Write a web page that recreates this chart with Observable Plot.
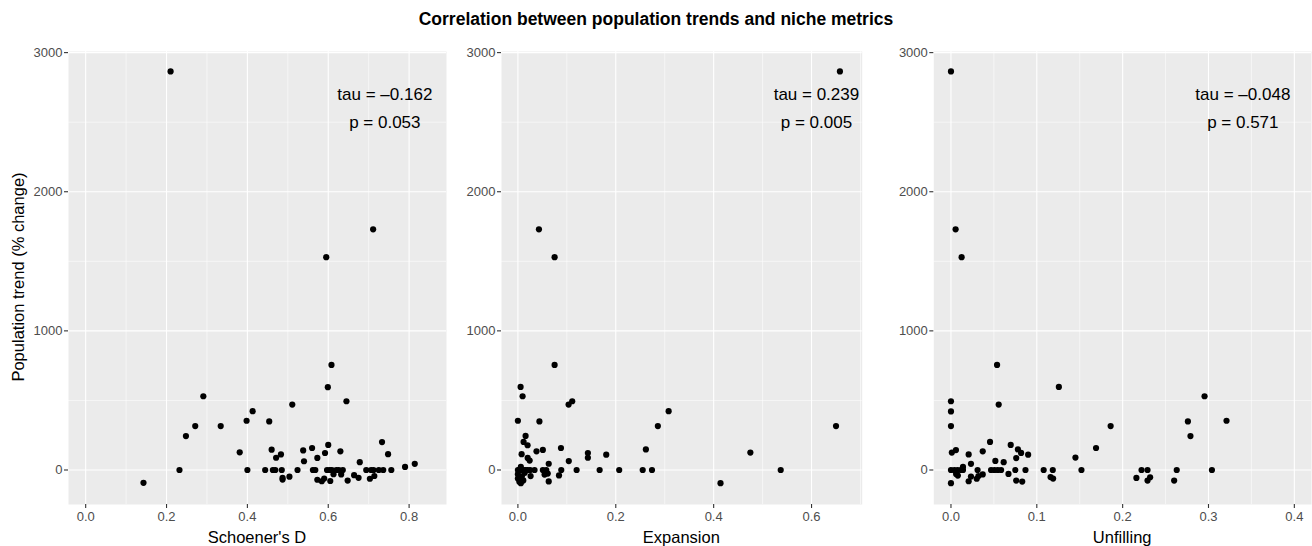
<!DOCTYPE html>
<html>
<head>
<meta charset="utf-8">
<script src="https://cdn.jsdelivr.net/npm/d3@7"></script>
<script src="https://cdn.jsdelivr.net/npm/@observablehq/plot@0.6"></script>
<style>
  html, body { margin: 0; padding: 0; background: #fff; }
  #chart { position: relative; width: 1312px; height: 546px; font-family: "Liberation Sans", Arial, sans-serif; overflow: hidden; }
  #chart svg { position: absolute; top: 0; }
  .lbl { position: absolute; white-space: nowrap; color: #000; }
</style>
</head>
<body>
<div id="chart"></div>
<script>
// ---------- data ----------
const chartTitle = "Correlation between population trends and niche metrics";
const yTitle = "Population trend (% change)";
const panelTitles = ["Schoener's D", "Expansion", "Unfilling"];

const yTicks = [0, 1000, 2000, 3000];
const yMinor = [500, 1500, 2500];

// Panel 1: Schoener's D
const schoenerX = [0.210, 0.595, 0.711,
  0.608, 0.599, 0.291, 0.645, 0.511, 0.413, 0.398, 0.454, 0.271, 0.334, 0.248, 0.733, 0.600, 0.560, 0.460, 0.538, 0.630, 0.381, 0.592, 0.748, 0.483, 0.471, 0.573, 0.540, 0.678, 0.814, 0.790,
  0.232, 0.400, 0.444, 0.463, 0.469, 0.485, 0.524, 0.562, 0.568, 0.597, 0.604, 0.609, 0.620, 0.626, 0.636, 0.694, 0.706, 0.712, 0.725, 0.736, 0.756,
  0.143, 0.487, 0.487, 0.504, 0.573, 0.584, 0.590, 0.605, 0.613, 0.632, 0.648, 0.664, 0.675, 0.703, 0.714];
const schoenerTrend = [2865, 1530, 1730,
  755, 595, 530, 494, 470, 423, 354, 349, 316, 316, 244, 201, 180, 158, 146, 141, 134, 127, 122, 114, 112, 88, 87, 63, 56, 44, 22,
  0, 0, 0, 0, 0, 0, 0, 0, 0, 0, 0, 0, 0, 0, 0, 0, 0, 0, 0, 0, 0,
  -92, -69, -57, -48, -70, -81, -62, -79, -30, -32, -76, -37, -56, -63, -43];

// Panel 2: Expansion
const expansionX = [0.658, 0.043, 0.075,
  0.075, 0.0055, 0.0096, 0.111, 0.1036, 0.308, 0.0, 0.044, 0.286, 0.650, 0.0157, 0.0116, 0.0198, 0.088, 0.2615, 0.051, 0.038, 0.475, 0.143, 0.0076, 0.1805, 0.143, 0.020, 0.024, 0.104, 0.063, 0.006,
  0.0, 0.003, 0.006, 0.009, 0.012, 0.016, 0.020, 0.025, 0.034, 0.051, 0.058, 0.0886, 0.120, 0.167, 0.207, 0.255, 0.274, 0.537,
  0.414, 0.084, 0.063, 0.026, 0.061, 0.0545, 0.0, 0.0, 0.003, 0.008, 0.011, 0.014, 0.006];
const expansionTrend = [2865, 1730, 1530,
  755, 597, 530, 494, 470, 423, 354, 349, 316, 316, 245, 202, 178, 158, 148, 144, 134, 125, 122, 114, 110, 88, 87, 68, 64, 45, 22,
  0, 0, 0, 0, 0, 0, 0, 0, 0, 0, 0, 0, 0, 0, 0, 0, 0, 0,
  -95, -39, -82, -44, -26, -33, -30, -62, -85, -45, -75, -20, -95];

// Panel 3: Unfilling
const unfillingX = [0, 0.0054, 0.0124,
  0.0537, 0.1257, 0.2954, 0, 0.0556, 0, 0.321, 0.276, 0, 0.186, 0.279, 0.0455, 0.0696, 0.169, 0.078, 0.0058, 0.037, 0.001, 0.0817, 0.0206, 0.0899, 0.145, 0.076, 0.0517, 0.0614, 0.0233, 0.014,
  0, 0.004, 0.0078, 0.0117, 0.014, 0.031, 0.0467, 0.0506, 0.0545, 0.0584, 0.075, 0.0868, 0.108, 0.1186, 0.152, 0.222, 0.229, 0.263, 0.304,
  0, 0.006, 0.008, 0.0206, 0.0233, 0.030, 0.032, 0.037, 0.067, 0.076, 0.083, 0.116, 0.119, 0.216, 0.229, 0.232, 0.260];
const unfillingTrend = [2865, 1730, 1530,
  755, 597, 530, 494, 470, 421, 354, 349, 316, 316, 244, 202, 180, 158, 148, 143, 134, 125, 123, 112, 110, 89, 86, 65, 56, 44, 22,
  0, 0, 0, 0, 0, 0, 0, 0, 0, 0, 0, 0, 0, 0, 0, 0, 0, 0, 0,
  -95, -28, -40, -81, -47, -63, -44, -32, -28, -76, -83, -51, -62, -57, -76, -52, -76];

// annotations (Kendall tau, p)
const tauLabels = ["tau = \u20130.162", "tau = 0.239", "tau = \u20130.048"];
const pLabels = ["p = 0.053", "p = 0.005", "p = 0.571"];
const annotX = [0.74, 0.61, 0.34];
const annotY = [2700, 2500];

// axis ticks per panel
const xTicks = [[0, 0.2, 0.4, 0.6, 0.8], [0, 0.2, 0.4, 0.6], [0, 0.1, 0.2, 0.3, 0.4]];
const xMinor = [[0.1, 0.3, 0.5, 0.7], [0.1, 0.3, 0.5, 0.7], [0.05, 0.15, 0.25, 0.35]];
const xLimits = [[0, 0.85], [0, 0.67], [0, 0.4]];
const yLimits = [-100, 2860];

// ---------- layout ----------
const H = 546, panelTop = 51, panelBottom = 504;
const panels = [
  {xs: schoenerX, ys: schoenerTrend, svgLeft: 0, width: 450, ml: 68, mr: 4},
  {xs: expansionX, ys: expansionTrend, svgLeft: 460, width: 406, ml: 41, mr: 4.3},
  {xs: unfillingX, ys: unfillingTrend, svgLeft: 890, width: 422, ml: 43.3, mr: 1}
];
const expand = (lim) => { const r = lim[1] - lim[0]; return [lim[0] - 0.05 * r, lim[1] + 0.05 * r]; };
const yDomain = expand(yLimits);
const chart = document.getElementById("chart");
const font = "'Liberation Sans', Arial, sans-serif";

panels.forEach((p, i) => {
  const data = p.xs.map((x, k) => ({x, y: p.ys[k]}));
  const xd = expand(xLimits[i]);
  const minor = xMinor[i].filter(v => v > xd[0] && v < xd[1]);
  const svg = Plot.plot({
    width: p.width, height: H,
    marginLeft: p.ml, marginRight: p.mr, marginTop: panelTop, marginBottom: H - panelBottom,
    style: {fontFamily: font, background: "transparent", overflow: "visible"},
    x: {domain: xd},
    y: {domain: yDomain},
    marks: [
      Plot.frame({fill: "#EBEBEB", stroke: null}),
      Plot.ruleY(yMinor, {stroke: "#FFFFFF", strokeWidth: 0.55}),
      Plot.ruleX(minor, {stroke: "#FFFFFF", strokeWidth: 0.55}),
      Plot.ruleY(yTicks, {stroke: "#FFFFFF", strokeWidth: 1.1}),
      Plot.ruleX(xTicks[i], {stroke: "#FFFFFF", strokeWidth: 1.1}),
      Plot.axisY({ticks: yTicks, tickSize: 4, tickPadding: 2, tickFormat: d3.format("d"),
        stroke: "#333333", strokeWidth: 1.1, fill: "#4D4D4D", fontSize: 13, label: null}),
      Plot.axisX({ticks: xTicks[i], tickSize: 4, tickPadding: 3, tickFormat: d3.format(".1f"),
        stroke: "#333333", strokeWidth: 1.1, fill: "#4D4D4D", fontSize: 13, label: null}),
      Plot.dot(data, {x: "x", y: "y", r: 3.1, fill: "#000000", stroke: null}),
      Plot.text([tauLabels[i], pLabels[i]], {
        x: () => annotX[i], y: (d, k) => annotY[k], text: d => d,
        fontSize: 17, fill: "#000000", textAnchor: "middle", fontFamily: font
      })
    ]
  });
  svg.style.left = p.svgLeft + "px";
  chart.appendChild(svg);

  const cx = p.svgLeft + p.ml + (p.width - p.ml - p.mr) / 2;
  const t = document.createElement("div");
  t.className = "lbl";
  t.textContent = panelTitles[i];
  t.style.cssText += `left:${cx}px;top:537px;transform:translate(-50%,-50%);font-size:16.5px;`;
  chart.appendChild(t);
});

const title = document.createElement("div");
title.className = "lbl";
title.textContent = chartTitle;
title.style.cssText += "left:656px;top:19px;transform:translate(-50%,-50%);font-size:17.5px;font-weight:bold;";
chart.appendChild(title);

const yt = document.createElement("div");
yt.className = "lbl";
yt.textContent = yTitle;
yt.style.cssText += "left:18px;top:277px;transform:translate(-50%,-50%) rotate(-90deg);font-size:16.5px;";
chart.appendChild(yt);
</script>
</body>
</html>
